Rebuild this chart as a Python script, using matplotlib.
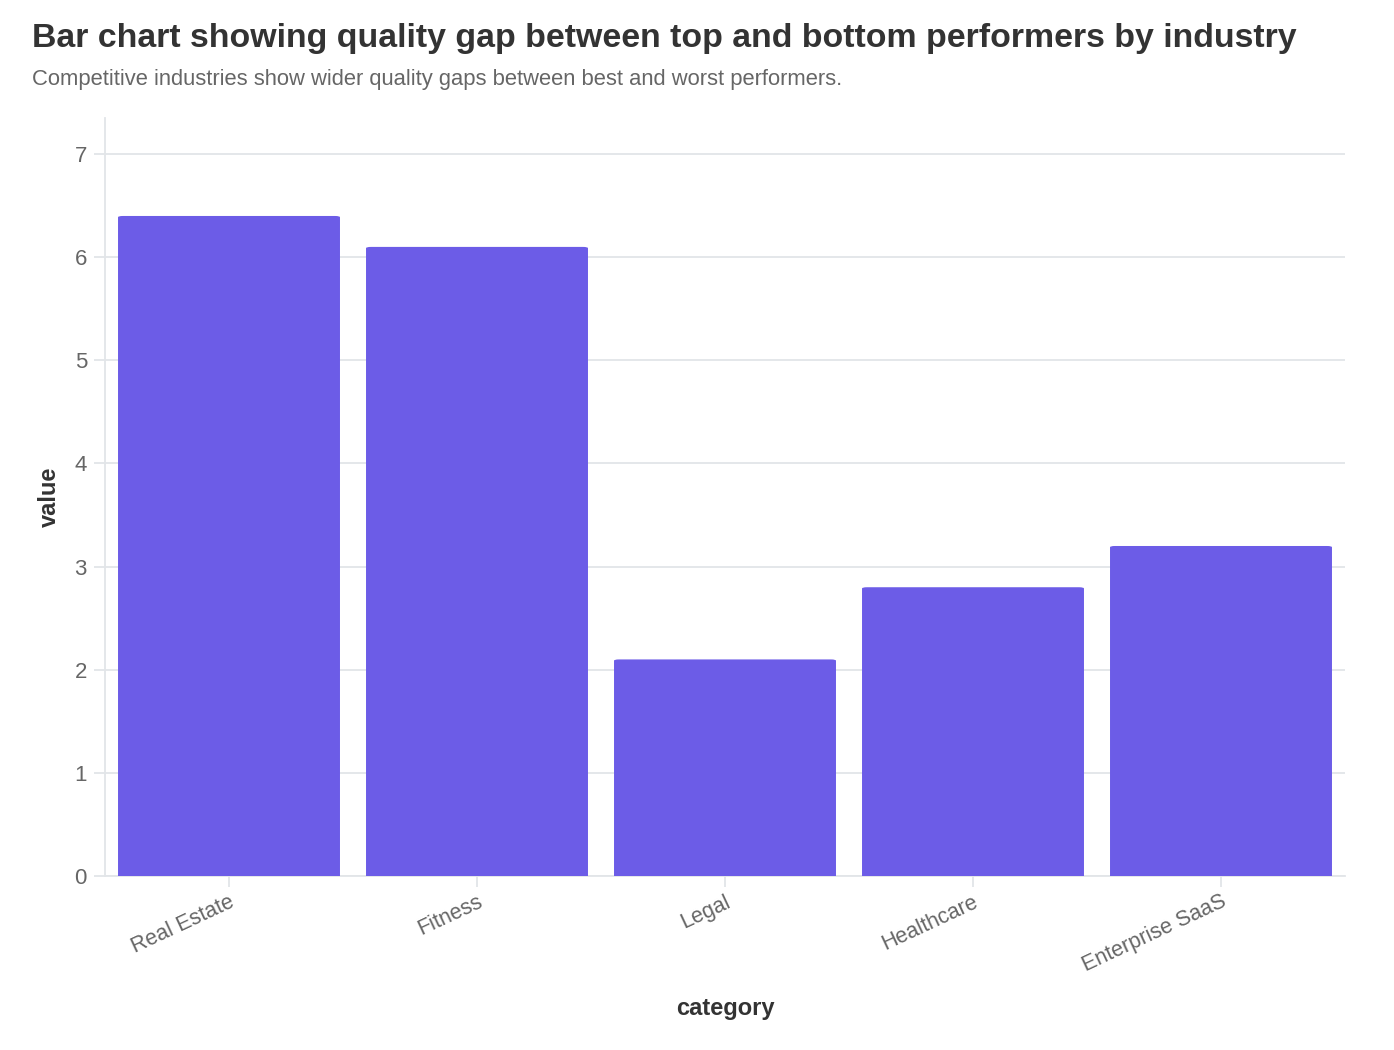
import matplotlib
matplotlib.use("Agg")
import matplotlib.pyplot as plt
from matplotlib.patches import FancyBboxPatch

plt.rcParams['font.family'] = ['Liberation Sans', 'DejaVu Sans']

## data
categories = ["Real Estate", "Fitness", "Legal", "Healthcare", "Enterprise SaaS"]
values = [6.4, 6.1, 2.1, 2.8, 3.2]
yticks = [0, 1, 2, 3, 4, 5, 6, 7]

bar_color = "#6c5ce7"
grid_color = "#e2e5e8"
text_dark = "#333333"
text_grey = "#666666"

fig = plt.figure(figsize=(13.94, 10.5), dpi=100)
ax = fig.add_axes([105/1394, 1 - 876/1050, 1240/1394, 758/1050])

x = range(len(categories))
bars = ax.bar(x, values, width=0.895, color=bar_color, zorder=3)

ax.set_xlim(-0.5, len(categories) - 0.5)
ax.set_ylim(0, 7.35)

## swap plain rectangles for ones with rounded top corners (~4px)
rx = 0.02
aspect = 0.60
for b in bars:
    b.set_visible(False)
    ext = rx * aspect
    p = FancyBboxPatch((b.get_x(), -ext), b.get_width(), b.get_height() + ext,
                       boxstyle="round,pad=0,rounding_size=%f" % rx,
                       mutation_aspect=aspect, fc=bar_color, ec='none', zorder=3)
    ax.add_patch(p)

ax.set_yticks(yticks)
ax.set_xticks(list(x))
ax.set_xticklabels(categories, rotation=25, ha='right', rotation_mode='anchor')

ax.grid(axis='y', color=grid_color, linewidth=1.3, zorder=0)
for s in ['top', 'right']:
    ax.spines[s].set_visible(False)
for s in ['left', 'bottom']:
    ax.spines[s].set_color(grid_color)
    ax.spines[s].set_linewidth(1.3)

ax.tick_params(axis='y', length=8, color=grid_color, width=1.3, labelsize=16, labelcolor=text_grey, pad=5)
ax.tick_params(axis='x', length=8, color=grid_color, width=1.3, labelsize=15.5, labelcolor=text_grey, pad=3)

ax.set_ylabel("value", fontsize=17, fontweight='bold', color=text_dark, labelpad=10)
ax.set_xlabel("category", fontsize=17, fontweight='bold', color=text_dark, labelpad=15)

fig.text(32/1394, 1 - 38/1050, "Bar chart showing quality gap between top and bottom performers by industry",
         fontsize=24.4, fontweight='bold', color=text_dark, va='center', ha='left')
fig.text(32/1394, 1 - 79/1050, "Competitive industries show wider quality gaps between best and worst performers.",
         fontsize=15.8, color=text_grey, va='center', ha='left')

plt.savefig("out.png", dpi=100)
